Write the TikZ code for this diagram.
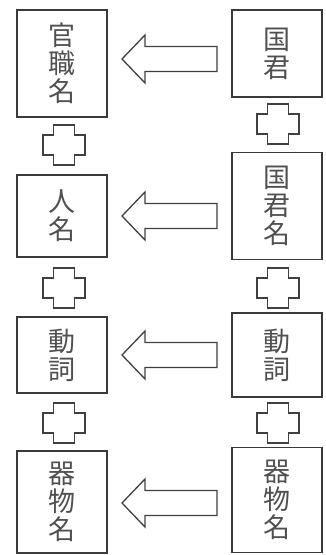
\documentclass[tikz,border=0pt]{standalone}
\usepackage{fontspec}
\setmainfont{Noto Sans CJK JP}
\definecolor{boxline}{HTML}{3A3A3A}
\definecolor{txt}{HTML}{505050}
\definecolor{symline}{HTML}{404040}
\tikzset{
  wordbox/.style={draw=boxline, line width=1.4pt, minimum width=90pt, inner sep=0pt,
    text=txt, font=\fontsize{27}{28}\selectfont, align=center},
  symbol/.style={draw=symline, line width=1.3pt, line join=miter}
}
\newcommand\crossat[2]{\draw[symbol] (#1-10.5,#2-20) -- ++(21,0) -- ++(0,10) -- ++(10.5,0) -- ++(0,20) -- ++(-10.5,0) -- ++(0,10) -- ++(-21,0) -- ++(0,-10) -- ++(-10.5,0) -- ++(0,-20) -- ++(10.5,0) -- cycle;}
\newcommand\blockarrowat[1]{\draw[symbol] (122,#1) -- (145,#1-24) -- (145,#1-12.5) -- (217,#1-12.5) -- (217,#1+12.5) -- (145,#1+12.5) -- (145,#1+24) -- cycle;}
\begin{document}
\begin{tikzpicture}[x=1pt,y=-1pt]
\useasboundingbox (0,0) rectangle (325,555);
% left column
\node[wordbox, minimum height=107pt] (L1) at (62,63.5) {官\\職\\名};
\node[wordbox, minimum height=82pt] (L2) at (62,216) {人\\名};
\node[wordbox, minimum height=76pt] (L3) at (62,355) {動\\詞};
\node[wordbox, minimum height=102pt] (L4) at (62,502) {器\\物\\名};
% right column
\node[wordbox, minimum height=87pt] (R1) at (277,53.5) {国\\君};
\node[wordbox, minimum height=107pt] (R2) at (277,206) {国\\君\\名};
\node[wordbox, minimum height=84pt] (R3) at (277,355) {動\\詞};
\node[wordbox, minimum height=105pt] (R4) at (277,500) {器\\物\\名};
% crosses
\crossat{64}{145}
\crossat{64}{288}
\crossat{64}{423}
\crossat{278}{124}
\crossat{278}{288}
\crossat{278}{423}
% arrows
\blockarrowat{59}
\blockarrowat{216}
\blockarrowat{355}
\blockarrowat{503}
\end{tikzpicture}
\end{document}
